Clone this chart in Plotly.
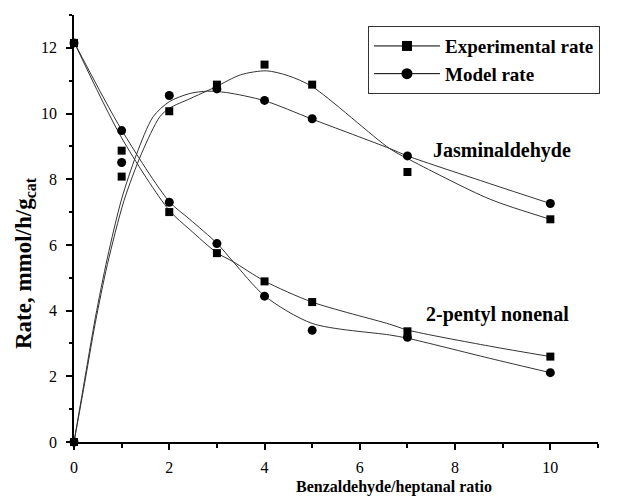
import plotly.graph_objects as go

# ---- data ----
ratio = [0, 1, 2, 3, 4, 5, 7, 10]
jas_exp = [0.0, 8.08, 10.07, 10.88, 11.49, 10.88, 8.22, 6.78]
jas_model = [0.0, 8.51, 10.55, 10.75, 10.40, 9.84, 8.71, 7.26]
pen_exp = [12.15, 8.87, 7.00, 5.75, 4.89, 4.26, 3.37, 2.60]
pen_model = [12.15, 9.48, 7.30, 6.04, 4.44, 3.40, 3.19, 2.11]

# smoothed fit curves
jas_exp_fit_x = [0, 0.2, 0.45, 0.7, 1.05, 1.42, 1.8, 2.0, 2.43, 2.78, 3.0, 3.5, 4.04, 4.5, 5, 6.62, 7, 8.72, 10]
jas_exp_fit_y = [0, 1.6, 3.65, 5.4, 7.35, 8.79, 9.9, 10.16, 10.45, 10.68, 10.83, 11.18, 11.30, 11.15, 10.82, 8.94, 8.63, 7.40, 6.78]
jas_mod_fit_x = [0, 0.2, 0.45, 0.7, 1.0, 1.31, 1.66, 2.0, 2.43, 2.8, 3.2, 4, 5, 6.62, 7, 8.72, 10]
jas_mod_fit_y = [0, 1.7, 3.8, 5.6, 7.4, 8.75, 9.9, 10.36, 10.61, 10.68, 10.64, 10.39, 9.83, 8.94, 8.71, 7.87, 7.26]
pen_exp_fit_x = [0, 1, 2, 2.43, 3, 3.34, 4, 5, 6.62, 7, 8.72, 10]
pen_exp_fit_y = [12.18, 9.26, 7.05, 6.47, 5.76, 5.49, 4.90, 4.26, 3.59, 3.41, 2.92, 2.60]
pen_mod_fit_x = [0, 1, 2, 2.43, 3, 3.34, 4, 5, 6.62, 7, 8.72, 10]
pen_mod_fit_y = [12.18, 9.5, 7.32, 6.78, 6.05, 5.49, 4.45, 3.61, 3.26, 3.16, 2.55, 2.11]

x_title = "Benzaldehyde/heptanal ratio"
y_title = "Rate, mmol/h/g<sub>cat</sub>"
legend_names = ["Experimental rate", "Model rate"]
labels = ["Jasminaldehyde", "2-pentyl nonenal"]

FONT = "Liberation Serif"
LINE = dict(color="#333333", width=1)

fig = go.Figure()

for fx, fy in [(jas_exp_fit_x, jas_exp_fit_y), (jas_mod_fit_x, jas_mod_fit_y),
               (pen_exp_fit_x, pen_exp_fit_y), (pen_mod_fit_x, pen_mod_fit_y)]:
    fig.add_trace(go.Scatter(x=fx, y=fy, mode="lines", line=dict(shape="spline", smoothing=0.8, **LINE),
                             showlegend=False, hoverinfo="skip"))

sq = dict(symbol="square", size=8, color="black")
ci = dict(symbol="circle", size=9, color="black")
for ys in [jas_exp, pen_exp]:
    fig.add_trace(go.Scatter(x=ratio, y=ys, mode="markers", marker=sq, showlegend=False, cliponaxis=False))
for ys in [jas_model, pen_model]:
    fig.add_trace(go.Scatter(x=ratio, y=ys, mode="markers", marker=ci, showlegend=False, cliponaxis=False))

# legend entries
fig.add_trace(go.Scatter(x=[None], y=[None], mode="lines+markers", name="<b>%s</b>" % legend_names[0],
                         marker=dict(symbol="square", size=10, color="black"), line=dict(color="black", width=1)))
fig.add_trace(go.Scatter(x=[None], y=[None], mode="lines+markers", name="<b>%s</b>" % legend_names[1],
                         marker=dict(symbol="circle", size=11, color="black"), line=dict(color="black", width=1)))

fig.add_annotation(x=8.98, y=8.89, xref="x", yref="y", text="<b>%s</b>" % labels[0], showarrow=False,
                   font=dict(family=FONT, size=20, color="black"))
fig.add_annotation(x=8.9, y=3.87, xref="x", yref="y", text="<b>%s</b>" % labels[1], showarrow=False,
                   font=dict(family=FONT, size=20, color="black"))
fig.add_annotation(x=0.611, y=-0.105, xref="paper", yref="paper", text="<b>%s</b>" % x_title, showarrow=False,
                   xanchor="center", yanchor="middle", font=dict(family=FONT, size=16, color="black"))
fig.add_annotation(x=-0.0935, y=0.419, xref="paper", yref="paper", text="<b>%s</b>" % y_title, showarrow=False,
                   textangle=-90, xanchor="center", yanchor="middle", font=dict(family=FONT, size=23, color="black"))

axis_common = dict(showgrid=False, zeroline=False, showline=True, linecolor="black", linewidth=1.5,
                   ticks="outside", tickcolor="black", tickwidth=1.5, ticklen=6,
                   tickfont=dict(family=FONT, size=16, color="black"))
fig.update_xaxes(range=[0, 11], dtick=2, tick0=0, ticklabelstandoff=4,
                 minor=dict(dtick=1, ticks="outside", ticklen=4, tickcolor="black", tickwidth=1.5),
                 **axis_common)
fig.update_yaxes(range=[0, 13], dtick=2, tick0=0, ticklabelstandoff=6,
                 minor=dict(dtick=1, ticks="outside", ticklen=3, tickcolor="black", tickwidth=1.5),
                 **axis_common)

fig.update_layout(
    width=619, height=502,
    margin=dict(l=74, r=21, t=15, b=60, autoexpand=False),
    paper_bgcolor="white", plot_bgcolor="white",
    font=dict(family=FONT, color="black"),
    legend=dict(x=0.561, y=0.974, xanchor="left", yanchor="top", bgcolor="white",
                bordercolor="#333333", borderwidth=1, font=dict(family=FONT, size=19, color="black"),
                itemwidth=66, tracegroupgap=0),
)

fig.write_html("out.html")
